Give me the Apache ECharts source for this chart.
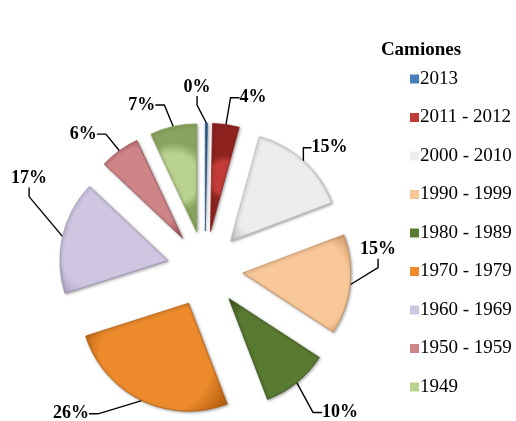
<!DOCTYPE html>
<html>
<head>
<meta charset="utf-8">
<script src="https://cdn.jsdelivr.net/npm/echarts@6/dist/echarts.min.js"></script>
<style>
html,body{margin:0;padding:0;background:#fff;}
#chart{width:516px;height:421px;}
</style>
</head>
<body>
<div id="chart"></div>
<script>
const title = 'Camiones';
const categories = ['2013', '2011 - 2012', '2000 - 2010', '1990 - 1999', '1980 - 1989', '1970 - 1979', '1960 - 1969', '1950 - 1959', '1949'];
const values = [0.3, 4, 15, 15, 10, 26, 17, 6, 7];
const colors = ['#4a7ebb', '#c23b38', '#ededed', '#f9c899', '#587a31', '#ec8a2c', '#cfc6e1', '#cf8587', '#bad28f'];
const darkColors = ['#2c5a8e', '#8e2320', '#b9b9b9', '#c98f5c', '#3a5219', '#b55f10', '#9d93b4', '#9c5254', '#89a45e'];
// label nudges (dx, dy) relative to ECharts' default outside placement
const labelNudge = [[-37, -18], [-3, -9], [-18, 0], [-22, -37], [0, 16], [-31, -3], [16, -54], [2, -2], [0, -4]];

const CX = 205, CY = 269, R = 108, EXPLODE = 38;

function grad(c, d) {
  return {
    type: 'radial', x: 0.5, y: 0.5, r: 0.75,
    colorStops: [{offset: 0, color: c}, {offset: 0.7, color: c}, {offset: 1, color: d}]
  };
}

const total = values.reduce((a, b) => a + b, 0);
let cum = 0;
const series = categories.map((name, i) => {
  const mid = (cum + values[i] / 2) / total * 2 * Math.PI;
  cum += values[i];
  const center = [CX + EXPLODE * Math.sin(mid), CY - EXPLODE * Math.cos(mid)];
  return {
    type: 'pie',
    center: center,
    radius: R,
    startAngle: 90,
    clockwise: true,
    avoidLabelOverlap: false,
    silent: true,
    emphasis: {disabled: true},
    label: {
      show: false,
      position: 'outside',
      formatter: p => Math.round(p.percent) + '%',
      fontFamily: 'Liberation Serif', fontWeight: 'bold', fontSize: 18, color: '#000'
    },
    labelLine: {show: false, length: 18, length2: 9, lineStyle: {color: '#000', width: 1.4}},
    labelLayout: p => {
      if (p.dataIndex !== i) return {};
      const r = p.labelRect, n = labelNudge[i];
      return {x: r.x + r.width / 2 + n[0], y: r.y + r.height / 2 + n[1], align: 'center', verticalAlign: 'middle'};
    },
    data: categories.map((n, j) => j === i ? {
      name: n, value: values[j],
      label: {show: true}, labelLine: {show: true},
      itemStyle: {color: grad(colors[j], darkColors[j]), borderColor: darkColors[j], borderWidth: 0.8,
        shadowBlur: 3, shadowColor: 'rgba(0,0,0,0.35)', shadowOffsetX: 1, shadowOffsetY: 1}
    } : {
      name: n, value: values[j],
      itemStyle: {color: 'rgba(0,0,0,0)', borderWidth: 0}
    })
  };
});

const chart = echarts.init(document.getElementById('chart'), null, {renderer: 'canvas'});
chart.setOption({
  animation: false,
  backgroundColor: '#ffffff',
  title: {
    text: title,
    left: 416, top: 36, textAlign: 'center',
    textStyle: {fontFamily: 'Liberation Serif', fontWeight: 'bold', fontSize: 19, color: '#000'}
  },
  legend: {
    orient: 'vertical',
    left: 405, top: 64,
    itemWidth: 9, itemHeight: 9,
    itemGap: 18.5,
    icon: 'rect',
    selectedMode: false,
    data: categories.map((n, i) => ({name: n, itemStyle: {color: colors[i], borderWidth: 0}})),
    textStyle: {fontFamily: 'Liberation Serif', fontSize: 19, color: '#000', lineHeight: 20, padding: [0, 0, 0, -4]}
  },
  series: series
});
</script>
</body>
</html>
